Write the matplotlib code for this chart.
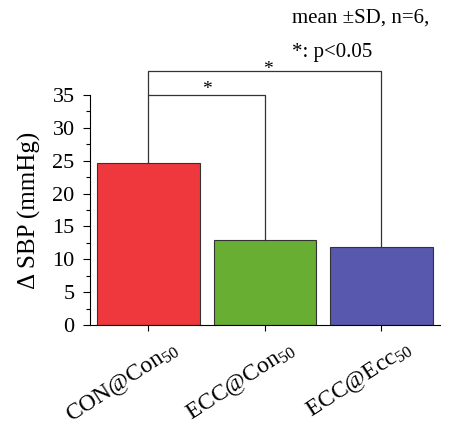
import matplotlib.pyplot as plt
from matplotlib.ticker import MultipleLocator
from matplotlib.transforms import ScaledTranslation

plt.rcParams["font.family"] = ["Liberation Serif", "DejaVu Serif"]
plt.rcParams["mathtext.fontset"] = "custom"
plt.rcParams["mathtext.rm"] = "Liberation Serif"
plt.rcParams["mathtext.it"] = "Liberation Serif:italic"

labels = ["CON@Con$_{50}$", "ECC@Con$_{50}$", "ECC@Ecc$_{50}$"]
values = [24.6, 12.9, 11.8]
colors = ["#ee383e", "#68ae32", "#5858ae"]

fig = plt.figure(figsize=(4.52, 4.29), dpi=100)
ax = fig.add_axes([0.199, 0.2424, 0.774, 0.5362])

x = range(len(values))
ax.bar(x, values, width=0.88, color=colors, edgecolor="#333333", linewidth=0.8)

ax.set_xlim(-0.5, 2.5)
ax.set_ylim(0, 35)
ax.yaxis.set_major_locator(MultipleLocator(5))
ax.yaxis.set_minor_locator(MultipleLocator(2.5))
ax.tick_params(axis="y", labelsize=16, direction="out", length=5, width=0.8, pad=6)
ax.tick_params(axis="y", which="minor", length=3, width=0.8)
ax.tick_params(axis="x", direction="out", length=4, width=0.8)
ax.set_xticks(list(x))
ax.set_xticklabels(labels, rotation=33, ha="right", rotation_mode="anchor", fontsize=17)
# shift the rotated labels to the right, as in the original
off = ScaledTranslation(22 / 100, -2 / 100, fig.dpi_scale_trans)
for t in ax.get_xticklabels():
    t.set_transform(t.get_transform() + off)
for s in ("top", "right"):
    ax.spines[s].set_visible(False)
ax.set_ylabel("Δ SBP (mmHg)", fontsize=18, labelpad=8)

# significance brackets
b1, b2 = 35.0, 38.6
ax.plot([0, 0, 1, 1], [values[0], b1, b1, values[1]], color="#333333", lw=0.9, clip_on=False)
ax.plot([0, 0, 2, 2], [b1, b2, b2, values[2]], color="#333333", lw=0.9, clip_on=False)
ax.text(0.5, 35.1, "*", ha="center", va="baseline", fontsize=14)
ax.text(1.03, 38.2, "*", ha="center", va="baseline", fontsize=14)

ax.text(1.23, 46.7, "mean ±SD, n=6,", fontsize=15, va="center", ha="left")
ax.text(1.23, 41.5, "*: p<0.05", fontsize=15, va="center", ha="left")

fig.savefig("out.png", dpi=100)
